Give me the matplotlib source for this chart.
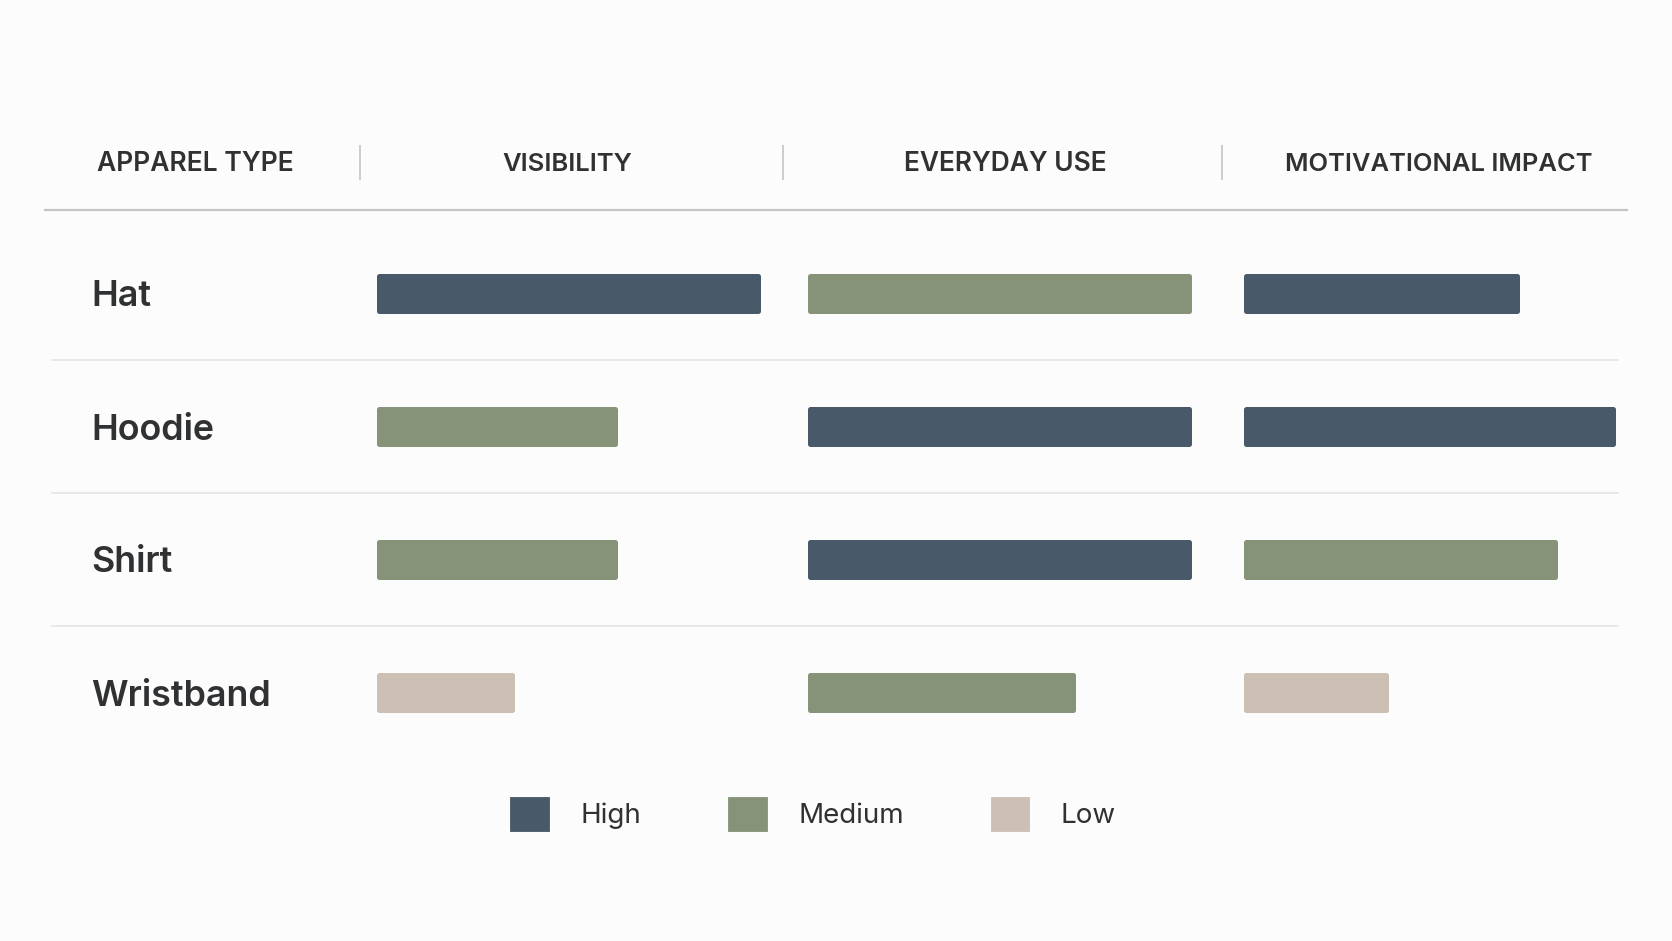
import matplotlib
matplotlib.use("Agg")
import matplotlib.pyplot as plt
from matplotlib.patches import Patch

# ---------------- data ----------------
apparel = ["Hat", "Hoodie", "Shirt", "Wristband"]
criteria = ["VISIBILITY", "EVERYDAY USE", "MOTIVATIONAL IMPACT"]
header_first = "APPAREL TYPE"
visibility_score = [100, 63, 63, 36]
everyday_score = [100, 100, 100, 70]
motivation_score = [72, 97, 82, 38]
visibility_level = ["High", "Medium", "Medium", "Low"]
everyday_level = ["Medium", "High", "High", "Medium"]
motivation_level = ["High", "High", "Medium", "Low"]
levels = ["High", "Medium", "Low"]
level_colors = {"High": "#485a69", "Medium": "#869378", "Low": "#cbc0b3"}

scores = [visibility_score, everyday_score, motivation_score]
level_sets = [visibility_level, everyday_level, motivation_level]

# ---------------- layout ----------------
W, H = 1672, 941
fig = plt.figure(figsize=(W / 100, H / 100), dpi=100)
BG = "#fcfcfc"
fig.patch.set_facecolor(BG)
FONT = ["Inter", "DejaVu Sans"]
TXT = "#2f3133"

bg = fig.add_axes([0, 0, 1, 1])
bg.set_xlim(0, W)
bg.set_ylim(H, 0)
bg.axis("off")
bg.set_facecolor(BG)

renderer = fig.canvas.get_renderer()


def fit(t, target_w):
    bb = t.get_window_extent(renderer)
    t.set_fontsize(t.get_fontsize() * target_w / bb.width)


# header
header_y = 164
hdr_centers = [195, 567, 1005, 1439]
hdr_widths = [197, 130, 203, 308]
for txt, cx, w in zip([header_first] + criteria, hdr_centers, hdr_widths):
    t = bg.text(cx, header_y, txt, ha="center", va="center", fontsize=17,
                fontweight="semibold", color=TXT, family=FONT)
    fit(t, w)

for sx in [360, 783, 1222]:
    bg.plot([sx, sx], [145, 180], color="#c9c9c9", lw=1.3, solid_capstyle="butt")

bg.plot([45, 1627], [210, 210], color="#c4c4c4", lw=1.6)

# rows
row_top, row_pitch = 226.5, 133
row_centers = [row_top + row_pitch * (i + 0.5) for i in range(len(apparel))]
row_texts = []
for i, name in enumerate(apparel):
    t = bg.text(91, row_centers[i] + 4, name, ha="left", va="center", fontsize=26,
                fontweight="semibold", color=TXT, family=FONT)
    row_texts.append(t)
fit(row_texts[-1], 180)
for tt in row_texts:
    tt.set_fontsize(row_texts[-1].get_fontsize())

for i in range(len(apparel) - 1):
    y = row_top + row_pitch * (i + 1)
    bg.plot([52, 1618], [y, y], color="#e4e4e4", lw=1.2)

# bars (one axes per criterion, 0-100 scale)
col_starts = [376, 807, 1243]
col_width = 384
ax_bottom = H - (row_top + row_pitch * len(apparel))
ax_height = row_pitch * len(apparel)
edge_px = 5
for c, (sc, lv) in enumerate(zip(scores, level_sets)):
    ax = fig.add_axes([(col_starts[c] + edge_px / 2) / W, ax_bottom / H,
                       col_width / W, ax_height / H])
    ax.set_xlim(0, 100)
    ax.set_ylim(len(apparel) - 0.5, -0.5)
    ax.axis("off")
    ax.patch.set_alpha(0)
    cols = [level_colors[l] for l in lv]
    pad = edge_px / col_width * 100
    bars = ax.barh(range(len(apparel)), [s - pad for s in sc],
                   height=(40 - edge_px) / row_pitch,
                   color=cols, edgecolor=cols, linewidth=edge_px * 0.72,
                   joinstyle="round")
    for b in bars:
        b.set_clip_on(False)

# legend
handles = [Patch(facecolor=level_colors[l], edgecolor=level_colors[l],
                 linewidth=3.5, joinstyle="round", label=l) for l in levels]
leg = fig.legend(handles=handles, loc="center", bbox_to_anchor=(814 / W, 1 - 814 / H),
                 ncol=3, frameon=False, prop={"family": FONT, "size": 20},
                 handlelength=1.25, handleheight=1.3, handletextpad=1.2,
                 columnspacing=3.2, labelcolor=TXT)

fig.savefig("out.png", dpi=100, facecolor=BG)
